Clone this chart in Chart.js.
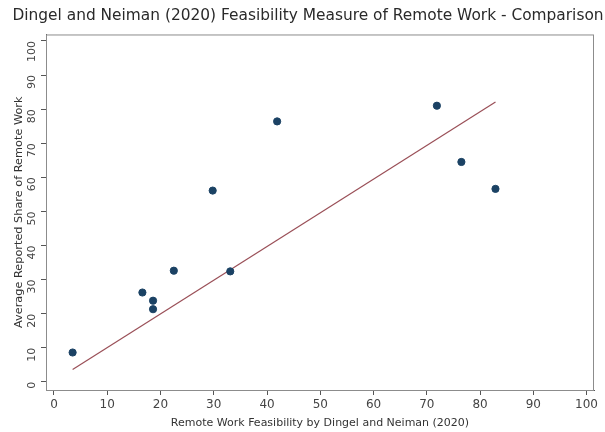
<!DOCTYPE html>
<html>
<head>
<meta charset="utf-8">
<script src="https://cdn.jsdelivr.net/npm/chart.js@4"></script>
<style>
  html, body { margin: 0; padding: 0; background: #fff; }
  #wrap { width: 605px; height: 432px; }
</style>
</head>
<body>
<div id="wrap"><canvas id="remoteChart" width="605" height="432"></canvas></div>
<script>
// feasibility (x) vs reported share (y)
const feasibility = [3.5, 16.6, 18.6, 18.6, 22.5, 29.8, 33.1, 41.9, 71.9, 76.5, 82.9];
const reportedShare = [8.6, 26.2, 23.8, 21.3, 32.6, 56.1, 32.4, 76.4, 81.0, 64.5, 56.6];
// fitted line end points
const fitX = [3.5, 82.9];
const fitY = [3.6, 82.1];
const tickValues = [0, 10, 20, 30, 40, 50, 60, 70, 80, 90, 100];

const FONT = "'DejaVu Sans', Verdana, sans-serif";

// gray box round the plot region
const frameBox = {
    id: 'frameBox',
    beforeDatasetsDraw(chart) {
        const a = chart.chartArea;
        const ctx = chart.ctx;
        ctx.save();
        ctx.strokeStyle = '#8c8c8c';
        ctx.lineWidth = 1;
        ctx.strokeRect(a.left + 0.5, a.top + 0.5, a.right - a.left - 1, a.bottom - a.top);
        ctx.restore();
    }
};

function fixedTicks(scale) {
    scale.ticks = tickValues.map(v => ({ value: v }));
}

const ctx = document.getElementById('remoteChart').getContext('2d');
const remoteChart = new Chart(ctx, {
    type: 'scatter',
    data: {
        datasets: [{
            label: 'Occupations',
            data: feasibility.map((x, i) => ({ x: x, y: reportedShare[i] })),
            backgroundColor: '#1b4264',
            borderColor: '#1b4264',
            pointRadius: 3.6,
            pointHoverRadius: 3.6,
            order: 1
        }, {
            label: 'Fit',
            type: 'line',
            data: fitX.map((x, i) => ({ x: x, y: fitY[i] })),
            borderColor: '#9a4f57',
            borderWidth: 1.2,
            pointRadius: 0,
            fill: false,
            order: 2
        }]
    },
    options: {
        responsive: false,
        animation: false,
        layout: { padding: { left: 11, right: 0, top: 0, bottom: 0 } },
        plugins: {
            legend: { display: false },
            tooltip: { enabled: false },
            title: {
                display: true,
                text: 'Dingel and Neiman (2020) Feasibility Measure of Remote Work - Comparison',
                color: '#2a2a2a',
                font: { family: FONT, size: 15.4, weight: 'normal' },
                padding: { top: 7, bottom: 9 }
            }
        },
        scales: {
            x: {
                type: 'linear',
                min: -1.5,
                max: 101.4,
                afterBuildTicks: fixedTicks,
                afterFit(scale) { scale.height = 42; },
                border: { display: true, color: '#555', width: 1 },
                grid: { drawOnChartArea: false, drawTicks: true, tickLength: 5, color: '#555' },
                ticks: { color: '#444', font: { family: FONT, size: 12 }, padding: 3, maxRotation: 0 },
                title: {
                    display: true,
                    text: 'Remote Work Feasibility by Dingel and Neiman (2020)',
                    color: '#333',
                    font: { family: FONT, size: 11 },
                    padding: { top: 0, bottom: 2 }
                }
            },
            y: {
                type: 'linear',
                min: -2.4,
                max: 101.9,
                afterBuildTicks: fixedTicks,
                afterFit(scale) { scale.width = 35; },
                border: { display: true, color: '#555', width: 1 },
                grid: { drawOnChartArea: false, drawTicks: true, tickLength: 5, color: '#555' },
                ticks: { color: '#444', font: { family: FONT, size: 11 }, padding: 9, minRotation: 90, maxRotation: 90 },
                title: {
                    display: true,
                    text: 'Average Reported Share of Remote Work',
                    color: '#333',
                    font: { family: FONT, size: 11.3 },
                    padding: { top: 1, bottom: 0 }
                }
            },
            // empty right margin so the title can centre on the whole canvas
            yRight: {
                type: 'linear',
                position: 'right',
                display: true,
                afterFit(scale) { scale.width = 11; },
                border: { display: false },
                grid: { display: false, drawTicks: false },
                ticks: { display: false }
            }
        }
    },
    plugins: [frameBox]
});
</script>
</body>
</html>
